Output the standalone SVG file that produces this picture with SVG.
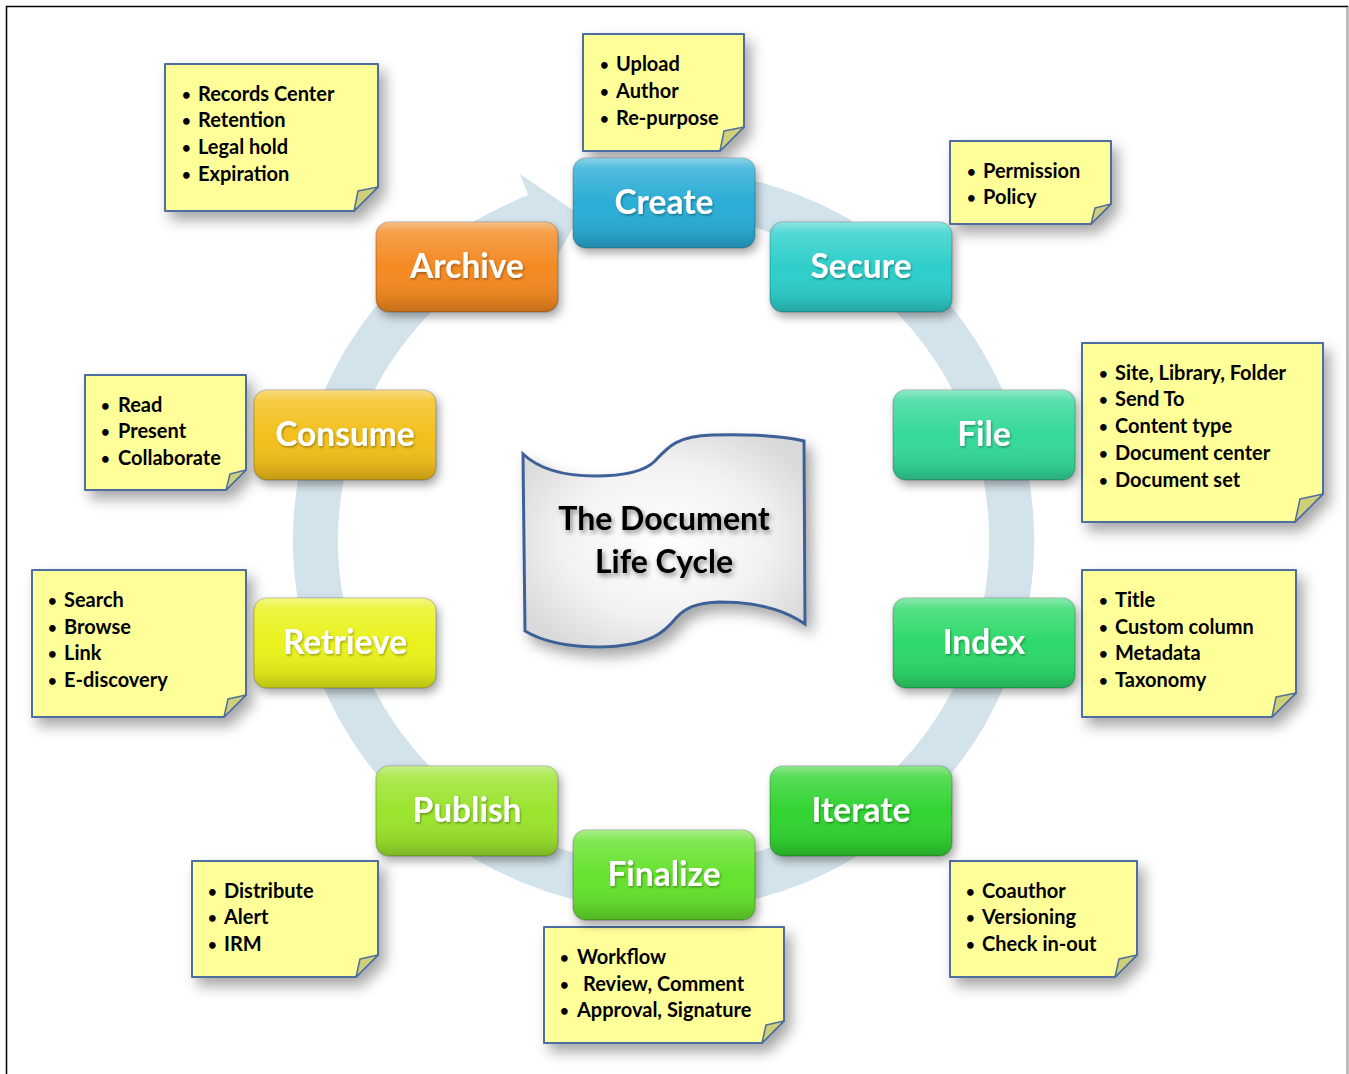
<svg xmlns="http://www.w3.org/2000/svg" width="1349" height="1074" viewBox="0 0 1349 1074">
<defs>
<filter id="sh" x="-20%" y="-20%" width="150%" height="160%">
<feDropShadow dx="6" dy="8" stdDeviation="7" flood-color="#000" flood-opacity="0.35"/>
</filter>
<filter id="nsh" x="-20%" y="-20%" width="150%" height="160%">
<feDropShadow dx="3" dy="5" stdDeviation="5" flood-color="#000" flood-opacity="0.35"/>
</filter>
<filter id="tsh" x="-20%" y="-30%" width="140%" height="170%">
<feDropShadow dx="2" dy="3" stdDeviation="2.5" flood-color="#000" flood-opacity="0.45"/>
</filter>
<filter id="wsh" x="-20%" y="-30%" width="140%" height="170%">
<feDropShadow dx="1" dy="1.5" stdDeviation="1" flood-color="#000" flood-opacity="0.35"/>
</filter>
<linearGradient id="gloss" x1="0" y1="0" x2="0" y2="1">
<stop offset="0" stop-color="#fff" stop-opacity="0.45"/>
<stop offset="0.12" stop-color="#fff" stop-opacity="0.18"/>
<stop offset="0.5" stop-color="#fff" stop-opacity="0"/>
<stop offset="0.85" stop-color="#000" stop-opacity="0.08"/>
<stop offset="1" stop-color="#000" stop-opacity="0.2"/>
</linearGradient>
<radialGradient id="docfill" cx="0.5" cy="0.5" r="0.6">
<stop offset="0" stop-color="#ffffff"/>
<stop offset="0.6" stop-color="#f2f2f2"/>
<stop offset="1" stop-color="#d9d9d9"/>
</radialGradient>
<style>
.node rect.b{stroke:#000;stroke-opacity:0.18;stroke-width:1.5}
.node rect.g{fill:url(#gloss)}
.node text{font-family:Lato,"Open Sans","Liberation Sans",sans-serif;font-weight:700;font-size:33.5px;fill:#fff;text-anchor:middle}
.note path.p{fill:#FFFF99;stroke:#4E6E9E;stroke-width:2;stroke-linejoin:round}
.note path.f{fill:#CFCF7A;stroke:#4E6E9E;stroke-width:1.5;stroke-linejoin:round}
.note text{font-family:Lato,"Open Sans","Liberation Sans",sans-serif;font-weight:700;font-size:20px;fill:#000}
.note text.u{font-size:15px}
.ring{fill:none;stroke:#D3E3EB;stroke-width:45}
.head{fill:#D3E3EB}
.title{font-family:Lato,"Open Sans","Liberation Sans",sans-serif;font-weight:700;font-size:32px;fill:#000;text-anchor:middle}
</style>
</defs>
<rect x="0" y="0" width="1349" height="1074" fill="#fff"/>
<rect x="6.5" y="6.5" width="1341" height="1080" fill="none" stroke="#000" stroke-width="1.5"/>
<line x1="1347.5" y1="7" x2="1347.5" y2="1074" stroke="#bbb" stroke-width="1.5"/>

<g id="connectors">
<path class="ring" d="M664,192 A348,348 0 1 1 536.6,216"/>
<polygon class="head" points="520,174 580,215 556,258 536,216"/>
</g>

<g id="center" filter="url(#sh)">
<path d="M523,454 C540,470 565,476 595,476 C628,476 646,470 655,461 C668,447 677,436 712,435 C752,434 786,437 804,441 L805,624 C785,610 755,602 720,602 C695,603 685,608 676,618 C665,632 650,646 600,647 C565,647 540,640 525,631 Z" fill="url(#docfill)" stroke="#3D6196" stroke-width="3"/>
</g>
<g id="center-text" filter="url(#tsh)">
<text class="title" x="664" y="530">The Document</text>
<text class="title" x="664" y="573">Life Cycle</text>
</g>

<g id="note-archive" class="note">
<path class="p" filter="url(#sh)" d="M165,64 H378 V187 L354,211 H165 Z"/>
<path class="f" d="M378,187 L354,211 L358,191 Z"/>
<text class="u" x="182" y="100">•</text><text x="198" y="101">Records Center</text>
<text class="u" x="182" y="126">•</text><text x="198" y="127">Retention</text>
<text class="u" x="182" y="153">•</text><text x="198" y="154">Legal hold</text>
<text class="u" x="182" y="180">•</text><text x="198" y="181">Expiration</text>
</g>
<g id="note-create" class="note">
<path class="p" filter="url(#sh)" d="M583,34 H744 V127 L720,151 H583 Z"/>
<path class="f" d="M744,127 L720,151 L724,131 Z"/>
<text class="u" x="600" y="70">•</text><text x="616" y="71">Upload</text>
<text class="u" x="600" y="97">•</text><text x="616" y="98">Author</text>
<text class="u" x="600" y="124">•</text><text x="616" y="125">Re-purpose</text>
</g>
<g id="note-secure" class="note">
<path class="p" filter="url(#sh)" d="M950,141 H1111 V204 L1091,224 H950 Z"/>
<path class="f" d="M1111,204 L1091,224 L1095,208 Z"/>
<text class="u" x="967" y="177">•</text><text x="983" y="178">Permission</text>
<text class="u" x="967" y="203">•</text><text x="983" y="204">Policy</text>
</g>
<g id="note-file" class="note">
<path class="p" filter="url(#sh)" d="M1082,343 H1323 V494 L1295,522 H1082 Z"/>
<path class="f" d="M1323,494 L1295,522 L1300,499 Z"/>
<text class="u" x="1099" y="379">•</text><text x="1115" y="380">Site, Library, Folder</text>
<text class="u" x="1099" y="405">•</text><text x="1115" y="406">Send To</text>
<text class="u" x="1099" y="432">•</text><text x="1115" y="433">Content type</text>
<text class="u" x="1099" y="459">•</text><text x="1115" y="460">Document center</text>
<text class="u" x="1099" y="486">•</text><text x="1115" y="487">Document set</text>
</g>
<g id="note-index" class="note">
<path class="p" filter="url(#sh)" d="M1082,570 H1296 V693 L1272,717 H1082 Z"/>
<path class="f" d="M1296,693 L1272,717 L1276,697 Z"/>
<text class="u" x="1099" y="606">•</text><text x="1115" y="607">Title</text>
<text class="u" x="1099" y="633">•</text><text x="1115" y="634">Custom column</text>
<text class="u" x="1099" y="659">•</text><text x="1115" y="660">Metadata</text>
<text class="u" x="1099" y="686">•</text><text x="1115" y="687">Taxonomy</text>
</g>
<g id="note-iterate" class="note">
<path class="p" filter="url(#sh)" d="M950,861 H1137 V955 L1115,977 H950 Z"/>
<path class="f" d="M1137,955 L1115,977 L1119,959 Z"/>
<text class="u" x="966" y="897">•</text><text x="982" y="898">Coauthor</text>
<text class="u" x="966" y="923">•</text><text x="982" y="924">Versioning</text>
<text class="u" x="966" y="950">•</text><text x="982" y="951">Check in-out</text>
</g>
<g id="note-finalize" class="note">
<path class="p" filter="url(#sh)" d="M544,927 H784 V1021 L762,1043 H544 Z"/>
<path class="f" d="M784,1021 L762,1043 L766,1025 Z"/>
<text class="u" x="560" y="963">•</text><text x="577" y="964">Workflow</text>
<text class="u" x="560" y="990">•</text><text x="583" y="991">Review, Comment</text>
<text class="u" x="560" y="1016">•</text><text x="577" y="1017">Approval, Signature</text>
</g>
<g id="note-publish" class="note">
<path class="p" filter="url(#sh)" d="M192,861 H378 V955 L356,977 H192 Z"/>
<path class="f" d="M378,955 L356,977 L360,959 Z"/>
<text class="u" x="208" y="897">•</text><text x="224" y="898">Distribute</text>
<text class="u" x="208" y="923">•</text><text x="224" y="924">Alert</text>
<text class="u" x="208" y="950">•</text><text x="224" y="951">IRM</text>
</g>
<g id="note-retrieve" class="note">
<path class="p" filter="url(#sh)" d="M32,570 H246 V695 L224,717 H32 Z"/>
<path class="f" d="M246,695 L224,717 L228,699 Z"/>
<text class="u" x="48" y="606">•</text><text x="64" y="607">Search</text>
<text class="u" x="48" y="633">•</text><text x="64" y="634">Browse</text>
<text class="u" x="48" y="659">•</text><text x="64" y="660">Link</text>
<text class="u" x="48" y="686">•</text><text x="64" y="687">E-discovery</text>
</g>
<g id="note-consume" class="note">
<path class="p" filter="url(#sh)" d="M85,375 H246 V470 L226,490 H85 Z"/>
<path class="f" d="M246,470 L226,490 L230,474 Z"/>
<text class="u" x="101" y="411">•</text><text x="118" y="412">Read</text>
<text class="u" x="101" y="437">•</text><text x="118" y="438">Present</text>
<text class="u" x="101" y="464">•</text><text x="118" y="465">Collaborate</text>
</g>

<g id="node-create" class="node">
<rect class="b" filter="url(#nsh)" x="573" y="158" width="182" height="90" rx="13" fill="#2CADD6"/>
<rect class="g" x="573" y="158" width="182" height="90" rx="13"/>
<text x="664" y="214" filter="url(#wsh)">Create</text>
</g>
<g id="node-secure" class="node">
<rect class="b" filter="url(#nsh)" x="770" y="222" width="182" height="90" rx="13" fill="#2DCFCB"/>
<rect class="g" x="770" y="222" width="182" height="90" rx="13"/>
<text x="861" y="278" filter="url(#wsh)">Secure</text>
</g>
<g id="node-file" class="node">
<rect class="b" filter="url(#nsh)" x="893" y="390" width="182" height="90" rx="13" fill="#34D99A"/>
<rect class="g" x="893" y="390" width="182" height="90" rx="13"/>
<text x="984" y="446" filter="url(#wsh)">File</text>
</g>
<g id="node-index" class="node">
<rect class="b" filter="url(#nsh)" x="893" y="598" width="182" height="90" rx="13" fill="#2ED96A"/>
<rect class="g" x="893" y="598" width="182" height="90" rx="13"/>
<text x="984" y="654" filter="url(#wsh)">Index</text>
</g>
<g id="node-iterate" class="node">
<rect class="b" filter="url(#nsh)" x="770" y="766" width="182" height="90" rx="13" fill="#30D430"/>
<rect class="g" x="770" y="766" width="182" height="90" rx="13"/>
<text x="861" y="822" filter="url(#wsh)">Iterate</text>
</g>
<g id="node-finalize" class="node">
<rect class="b" filter="url(#nsh)" x="573" y="830" width="182" height="90" rx="13" fill="#66E22F"/>
<rect class="g" x="573" y="830" width="182" height="90" rx="13"/>
<text x="664" y="886" filter="url(#wsh)">Finalize</text>
</g>
<g id="node-publish" class="node">
<rect class="b" filter="url(#nsh)" x="376" y="766" width="182" height="90" rx="13" fill="#9BE42F"/>
<rect class="g" x="376" y="766" width="182" height="90" rx="13"/>
<text x="467" y="822" filter="url(#wsh)">Publish</text>
</g>
<g id="node-retrieve" class="node">
<rect class="b" filter="url(#nsh)" x="254" y="598" width="182" height="90" rx="13" fill="#E9F21E"/>
<rect class="g" x="254" y="598" width="182" height="90" rx="13"/>
<text x="345" y="654" filter="url(#wsh)">Retrieve</text>
</g>
<g id="node-consume" class="node">
<rect class="b" filter="url(#nsh)" x="254" y="390" width="182" height="90" rx="13" fill="#F3C01F"/>
<rect class="g" x="254" y="390" width="182" height="90" rx="13"/>
<text x="345" y="446" filter="url(#wsh)">Consume</text>
</g>
<g id="node-archive" class="node">
<rect class="b" filter="url(#nsh)" x="376" y="222" width="182" height="90" rx="13" fill="#F48A20"/>
<rect class="g" x="376" y="222" width="182" height="90" rx="13"/>
<text x="467" y="278" filter="url(#wsh)">Archive</text>
</g>
</svg>
